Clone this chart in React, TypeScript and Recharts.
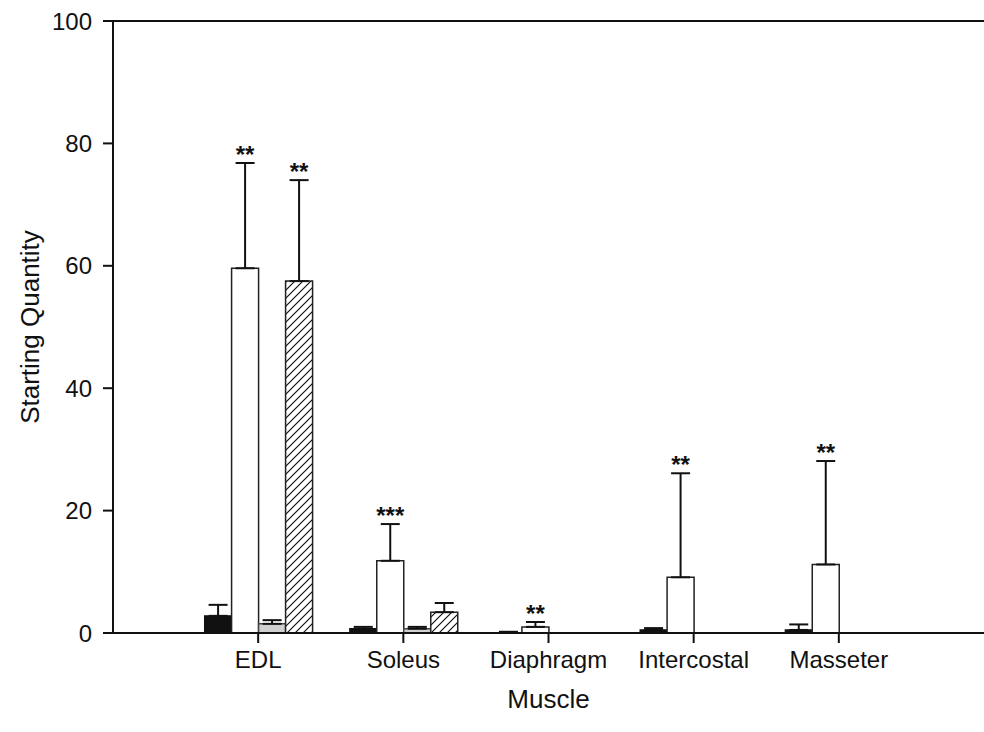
import React from 'react'
import { BarChart, Bar, XAxis, YAxis, ErrorBar, LabelList, ReferenceLine, Label } from 'recharts'

// values
const muscles = ['EDL', 'Soleus', 'Diaphragm', 'Intercostal', 'Masseter']
const blackMeans = [2.8, 0.7, 0.05, 0.5, 0.5]
const blackErrs = [1.8, 0.3, 0.15, 0.3, 0.9]
const whiteMeans = [59.6, 11.8, 1.0, 9.1, 11.2]
const whiteErrs = [17.2, 6.0, 0.8, 17.0, 16.9]
const grayMeans: (number | null)[] = [1.5, 0.7, null, null, null]
const grayErrs = [0.6, 0.3, 0, 0, 0]
const hatchMeans: (number | null)[] = [57.5, 3.4, null, null, null]
const hatchErrs = [16.5, 1.5, 0, 0, 0]
const whiteStars = ['**', '***', '**', '**', '**']
const hatchStars = ['**', '', '', '', '']
const yTicks = [0, 20, 40, 60, 80, 100]

const data = muscles.map((m, i) => ({
  muscle: m,
  black: blackMeans[i],
  blackErr: [0, blackErrs[i]],
  white: whiteMeans[i],
  whiteErr: [0, whiteErrs[i]],
  gray: grayMeans[i],
  grayErr: [0, grayErrs[i]],
  hatch: hatchMeans[i],
  hatchErr: [0, hatchErrs[i]],
}))

const FONT = 'Arial, "Liberation Sans", sans-serif'

// asterisks sit just above the error bar cap; scale taken from the bar itself
function starLabel(means: (number | null)[], errs: number[], stars: string[]) {
  return function StarContent(props: any) {
    const { x, y, width, height, index } = props
    const mean = means[index]
    const s = stars[index]
    if (!s || mean == null || !height) return null
    const ppu = height / mean
    const top = y - errs[index] * ppu
    return (
      <text
        x={x + width / 2}
        y={top}
        textAnchor="middle"
        fontSize={24}
        fontWeight="bold"
        fill="#111"
        fontFamily={FONT}
      >
        {s}
      </text>
    )
  }
}

function YTitle(props: any) {
  const { viewBox } = props
  const cx = viewBox.x + 30
  const cy = viewBox.y + viewBox.height / 2
  return (
    <text
      x={cx}
      y={cy}
      transform={`rotate(-90 ${cx} ${cy})`}
      textAnchor="middle"
      dominantBaseline="central"
      fontSize={26}
      fill="#111"
      fontFamily={FONT}
    >
      Starting Quantity
    </text>
  )
}

function XTitle(props: any) {
  const { viewBox } = props
  return (
    <text
      x={viewBox.x + viewBox.width / 2}
      y={viewBox.y + 66}
      textAnchor="middle"
      dominantBaseline="central"
      fontSize={26}
      fill="#111"
      fontFamily={FONT}
    >
      Muscle
    </text>
  )
}

export default function App() {
  const width = 984
  const height = 732
  const plotW = width - 113
  const pad = plotW / 12

  return (
    <div style={{ position: 'absolute', left: 0, top: 0, background: '#fff', fontFamily: FONT }}>
      <BarChart
        width={width}
        height={height}
        data={data}
        margin={{ top: 21, right: 0, left: 0, bottom: 0 }}
        barSize={27}
        barGap={0}
      >
        <defs>
          <pattern id="hatch" patternUnits="userSpaceOnUse" width={8} height={8}>
            <rect width={8} height={8} fill="#fff" />
            <path d="M0,8 L8,0 M-2,2 L2,-2 M6,10 L10,6" stroke="#111" strokeWidth={1.2} />
          </pattern>
        </defs>
        <XAxis
          dataKey="muscle"
          height={99}
          padding={{ left: pad, right: pad }}
          axisLine={{ stroke: '#111', strokeWidth: 2 }}
          tickLine={{ stroke: '#111', strokeWidth: 2 }}
          tickSize={10}
          tickMargin={8}
          tick={{ fill: '#111', fontSize: 24, fontFamily: FONT }}
          interval={0}
        >
          <Label content={<XTitle />} />
        </XAxis>
        <YAxis
          width={113}
          domain={[0, 100]}
          ticks={yTicks}
          axisLine={{ stroke: '#111', strokeWidth: 2 }}
          tickLine={{ stroke: '#111', strokeWidth: 2 }}
          tickSize={10}
          tickMargin={11}
          tick={{ fill: '#111', fontSize: 24, fontFamily: FONT }}
        >
          <Label content={<YTitle />} />
        </YAxis>
        <ReferenceLine y={100} stroke="#111" strokeWidth={2} />

        <Bar dataKey="black" fill="#111" stroke="#111" strokeWidth={1.2} isAnimationActive={false}>
          <ErrorBar dataKey="blackErr" width={9.5} stroke="#111" strokeWidth={2} direction="y" />
        </Bar>
        <Bar dataKey="white" fill="#fff" stroke="#222" strokeWidth={1.5} isAnimationActive={false}>
          <ErrorBar dataKey="whiteErr" width={9.5} stroke="#111" strokeWidth={2} direction="y" />
          <LabelList dataKey="white" content={starLabel(whiteMeans, whiteErrs, whiteStars)} />
        </Bar>
        <Bar dataKey="gray" fill="#d0d0d0" stroke="#444" strokeWidth={1.5} isAnimationActive={false}>
          <ErrorBar dataKey="grayErr" width={9.5} stroke="#111" strokeWidth={2} direction="y" />
        </Bar>
        <Bar dataKey="hatch" fill="url(#hatch)" stroke="#222" strokeWidth={1.5} isAnimationActive={false}>
          <ErrorBar dataKey="hatchErr" width={9.5} stroke="#111" strokeWidth={2} direction="y" />
          <LabelList dataKey="hatch" content={starLabel(hatchMeans, hatchErrs, hatchStars)} />
        </Bar>
      </BarChart>
    </div>
  )
}
